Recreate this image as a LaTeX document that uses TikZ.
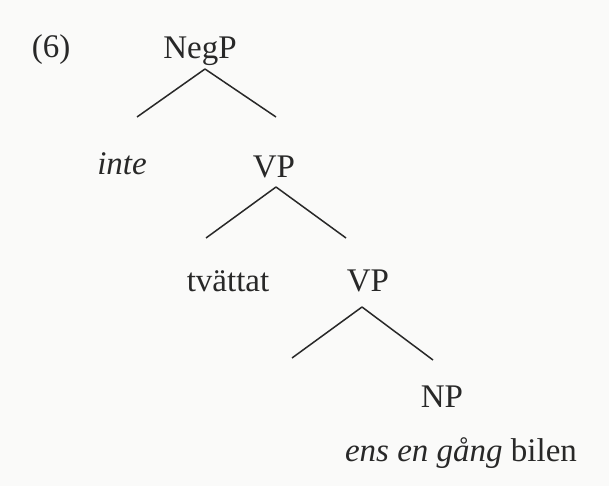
\documentclass[tikz,border=0pt]{standalone}
\usepackage{fontspec}
\setmainfont{Liberation Serif}
\definecolor{ink}{RGB}{40,40,40}
\definecolor{paper}{RGB}{250,250,249}
\tikzset{
  cat/.style={anchor=base, inner sep=0pt, outer ysep=5pt, text depth=0pt, text=ink, font=\fontsize{16.5}{20}\selectfont},
  word/.style={anchor=base, inner sep=0pt, text=ink, font=\fontsize{16.5}{20}\selectfont},
  branch/.style={draw=ink, line width=0.75pt},
}
\begin{document}
\begin{tikzpicture}[x=0.5pt,y=-0.5pt]
      \fill[paper] (0,0) rectangle (609,486);
      \useasboundingbox (0,0) rectangle (609,486);
      \node[word] (ex) at (51,58) {(6)};
      \node[cat] (negp) at (200,59) {NegP};
      \node[word] (inte) at (122,175) {\textit{inte}};
      \node[cat] (vp1) at (274,177) {VP};
      \node[word] (tv) at (228,291) {tvättat};
      \node[cat] (vp2) at (368,291) {VP};
      \node[cat] (np) at (442,407) {NP};
      \node[word] (obj) at (461,461) {\textit{ens en gång} bilen};
      \coordinate (negp-l) at (137,117);
      \coordinate (negp-r) at (276,117);
      \coordinate (vp1-l) at (206,238);
      \coordinate (vp1-r) at (346,238);
      \coordinate (vp2-l) at (292,358);
      \coordinate (vp2-r) at (433,360);
      \draw [branch] ([xshift=2.5pt]negp.south) -- (negp-l);
      \draw [branch] ([xshift=2.5pt]negp.south) -- (negp-r);
      \draw [branch] ([xshift=1pt]vp1.south) -- (vp1-l);
      \draw [branch] ([xshift=1pt]vp1.south) -- (vp1-r);
      \draw [branch] ([xshift=-3pt,yshift=-3pt]vp2.south) -- (vp2-l);
      \draw [branch] ([xshift=-3pt,yshift=-3pt]vp2.south) -- (vp2-r);
\end{tikzpicture}
\end{document}
